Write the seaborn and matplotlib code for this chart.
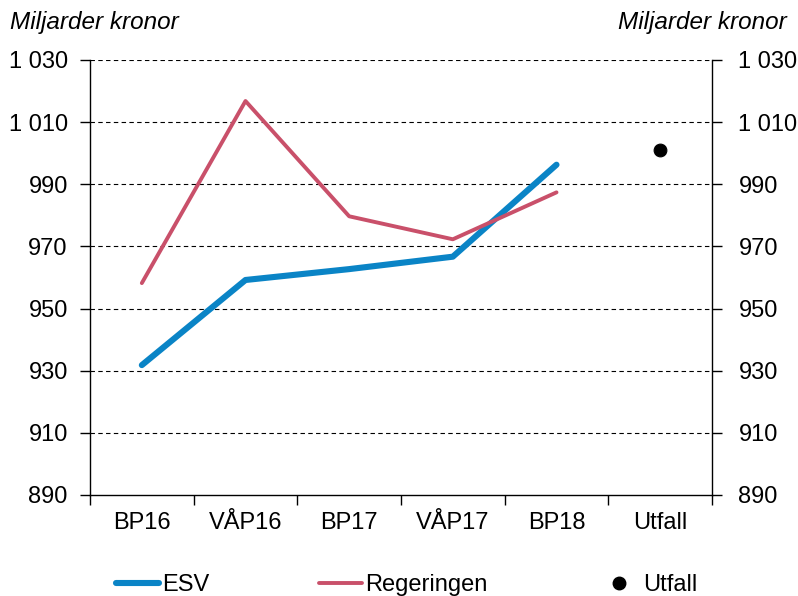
import pandas as pd
import matplotlib
matplotlib.use('Agg')
import matplotlib.pyplot as plt
import seaborn as sns

categories = ['BP16', 'VÅP16', 'BP17', 'VÅP17', 'BP18', 'Utfall']
esv = [931.8, 959.2, 962.7, 966.7, 996.3]
regeringen = [958.2, 1016.8, 979.7, 972.3, 987.4]
utfall = [1001.0]
y_ticks = [890, 910, 930, 950, 970, 990, 1010, 1030]

sns.set_theme(style='white')
plt.rcParams['font.family'] = ['Liberation Sans', 'DejaVu Sans']
plt.rcParams['text.color'] = 'black'
plt.rcParams['xtick.color'] = 'black'
plt.rcParams['ytick.color'] = 'black'
plt.rcParams['xtick.labelcolor'] = 'black'
plt.rcParams['ytick.labelcolor'] = 'black'

# long format for seaborn
df = pd.DataFrame({
    'x': list(range(len(esv))) + list(range(len(regeringen))),
    'value': esv + regeringen,
    'serie': ['ESV'] * len(esv) + ['Regeringen'] * len(regeringen),
})
df_utfall = pd.DataFrame({'x': [categories.index('Utfall')], 'value': utfall, 'serie': ['Utfall']})

fig = plt.figure(figsize=(7.98, 5.96), dpi=100)
ax = fig.add_axes([90 / 798, 1 - 495 / 596, 622 / 798, 435 / 596])

fs = 17
sns.lineplot(data=df, x='x', y='value', hue='serie', ax=ax,
             palette={'ESV': '#0A84C6', 'Regeringen': '#C9506A'},
             size='serie', sizes={'ESV': 4.4, 'Regeringen': 2.8},
             legend=False, solid_capstyle='round')
sns.scatterplot(data=df_utfall, x='x', y='value', ax=ax, color='black', s=85,
                edgecolor='black', zorder=5, legend=False)

ax.set_xlim(-0.5, len(categories) - 0.5)
ax.set_ylim(890, 1030)
ax.set_yticks(y_ticks)
ax.set_yticklabels([f'{v:,}'.replace(',', ' ') for v in y_ticks], fontsize=fs)
ax.set_xticks(range(len(categories)))
ax.set_xticklabels(categories, fontsize=fs)
ax.set_xticks([i - 0.5 for i in range(len(categories) + 1)], minor=True)
ax.tick_params(axis='x', which='major', length=0, pad=12)
ax.tick_params(axis='x', which='minor', length=7, width=1, color='black', direction='out', bottom=True)
ax.tick_params(axis='y', length=7, width=1, color='black', direction='out', left=True, pad=9)
ax.set_xlabel('')
ax.set_ylabel('')

for y in y_ticks[1:]:
    ax.axhline(y, color='black', linestyle=(0, (4, 3)), linewidth=0.8, zorder=0)

for side in ['left', 'bottom']:
    ax.spines[side].set_visible(True)
    ax.spines[side].set_color('black')
    ax.spines[side].set_linewidth(1)
ax.spines['top'].set_visible(False)
ax.spines['right'].set_visible(False)

ax2 = ax.twinx()
ax2.set_ylim(890, 1030)
ax2.set_yticks(y_ticks)
ax2.set_yticklabels([f'{v:,}'.replace(',', ' ') for v in y_ticks], fontsize=fs)
ax2.tick_params(axis='y', length=7, width=1, color='black', direction='out', right=True, pad=12)
for side in ['left', 'top', 'bottom']:
    ax2.spines[side].set_visible(False)
ax2.spines['right'].set_visible(True)
ax2.spines['right'].set_color('black')
ax2.spines['right'].set_linewidth(1)
ax2.grid(False)

fig.text(10 / 798, 1 - 22 / 596, 'Miljarder kronor', ha='left', va='center', fontsize=fs + 0.5, style='italic')
fig.text(787 / 798, 1 - 22 / 596, 'Miljarder kronor', ha='right', va='center', fontsize=fs + 0.5, style='italic')

handles = [
    plt.Line2D([], [], color='#0A84C6', linewidth=4.4, solid_capstyle='round'),
    plt.Line2D([], [], color='#C9506A', linewidth=2.8, solid_capstyle='round'),
    plt.Line2D([], [], color='black', marker='o', linestyle='none', markersize=9),
]
fig.legend(handles, ['ESV', 'Regeringen', 'Utfall'], loc='center', bbox_to_anchor=(407 / 798, 11 / 596),
           ncol=3, frameon=False, fontsize=fs, handlelength=1.8, handletextpad=0.15,
           columnspacing=4.65)

fig.savefig('out.png', dpi=100)
